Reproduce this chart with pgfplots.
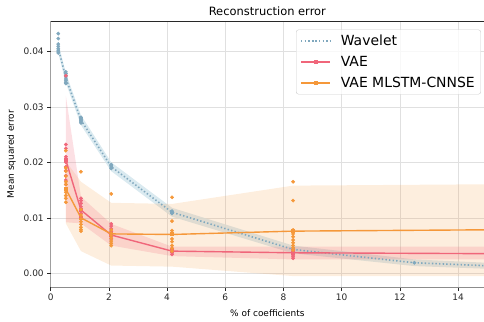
\documentclass[border=0pt]{standalone}
\usepackage{fontspec}
\setmainfont{DejaVu Sans}
\usepackage{pgfplots}
\usepackage{pgfplotstable}
\usepgfplotslibrary{fillbetween}
\pgfplotsset{compat=1.18}

\definecolor{wavecol}{RGB}{128,168,190}
\definecolor{wavefill}{RGB}{212,230,237}
\definecolor{vaecol}{RGB}{240,102,122}
\definecolor{mlcol}{RGB}{245,152,58}
\definecolor{spine}{RGB}{40,40,40}

% individual runs, wavelet baseline
\pgfplotstableread{
x y
0.26 0.0432
0.26 0.0423
0.26 0.0413
0.26 0.0409
0.26 0.0405
0.26 0.0402
0.26 0.0399
0.26 0.0397
0.52 0.0363
0.52 0.0360
0.52 0.0357
0.52 0.0354
0.52 0.0350
0.52 0.0347
0.52 0.0344
0.52 0.0342
1.04 0.0281
1.04 0.0279
1.04 0.0277
1.04 0.0275
1.04 0.0273
1.04 0.0271
2.08 0.0196
2.08 0.0194
2.08 0.0192
2.08 0.0190
2.08 0.0189
4.17 0.0112
4.17 0.0110
4.17 0.0109
4.17 0.0108
8.33 0.0044
12.5 0.0019
}\wavepts

% mean and band, wavelet
\pgfplotstableread{
x m lo hi
0.26 0.0406 0.0397 0.0415
0.52 0.0352 0.0343 0.0361
1.04 0.0276 0.0267 0.0285
2.08 0.0192 0.0184 0.0200
4.17 0.0110 0.0102 0.0118
8.33 0.0043 0.0036 0.0050
12.5 0.0019 0.0013 0.0025
16.67 0.0010 0.0005 0.0015
}\wavemean

% individual runs, VAE
\pgfplotstableread{
x y
0.52 0.0356
0.52 0.0232
0.52 0.0225
0.52 0.0210
0.52 0.0206
0.52 0.0200
0.52 0.0192
0.52 0.0185
0.52 0.0176
0.52 0.0168
0.52 0.0160
1.04 0.0135
1.04 0.0131
1.04 0.0126
1.04 0.0120
1.04 0.0114
1.04 0.0108
1.04 0.0101
2.08 0.0089
2.08 0.0085
2.08 0.0080
2.08 0.0075
2.08 0.0070
2.08 0.0066
2.08 0.0062
4.17 0.0045
4.17 0.0042
4.17 0.0040
4.17 0.0037
4.17 0.0034
8.33 0.0043
8.33 0.0040
8.33 0.0036
8.33 0.0033
8.33 0.0030
8.33 0.0027
}\vaepts

% mean and band, VAE
\pgfplotstableread{
x m lo hi
0.52 0.0204 0.0092 0.0320
1.04 0.0114 0.0090 0.0138
2.08 0.0069 0.0050 0.0089
4.17 0.0040 0.0031 0.0048
8.33 0.0037 0.0025 0.0048
16.67 0.0035 0.0025 0.0048
}\vaemean

% individual runs, VAE MLSTM-CNNSE
\pgfplotstableread{
x y
0.52 0.0221
0.52 0.0190
0.52 0.0184
0.52 0.0175
0.52 0.0165
0.52 0.0160
0.52 0.0150
0.52 0.0146
0.52 0.0140
0.52 0.0135
0.52 0.0128
1.04 0.0183
1.04 0.0115
1.04 0.0105
1.04 0.0098
1.04 0.0093
1.04 0.0088
1.04 0.0083
1.04 0.0079
1.04 0.0076
2.08 0.0143
2.08 0.0078
2.08 0.0072
2.08 0.0068
2.08 0.0063
2.08 0.0058
2.08 0.0054
2.08 0.0050
4.17 0.0137
4.17 0.0094
4.17 0.0077
4.17 0.0073
4.17 0.0062
4.17 0.0057
4.17 0.0050
4.17 0.0045
4.17 0.0040
8.33 0.0165
8.33 0.0131
8.33 0.0078
8.33 0.0075
8.33 0.0071
8.33 0.0066
8.33 0.0060
8.33 0.0055
8.33 0.0050
8.33 0.0046
8.33 0.0042
}\mlpts

% mean and band, VAE MLSTM-CNNSE
\pgfplotstableread{
x m lo hi
0.52 0.0152 0.0090 0.0202
1.04 0.0100 0.0040 0.0165
2.08 0.0071 0.0014 0.0127
4.17 0.0070 0.0012 0.0125
8.33 0.0076 -0.0005 0.0158
16.67 0.0079 -0.0005 0.0161
}\mlmean

\begin{document}
\begin{tikzpicture}
\begin{axis}[
  name=ax,
  at={(0,0)}, anchor=south west,
  scale only axis,
  width=433.3bp, height=266.3bp,
  xmin=0, xmax=14.89,
  ymin=-0.00252, ymax=0.04546,
  axis line style={draw=none},
  xtick={0,2,4,6,8,10,12,14},
  ytick={0,0.01,0.02,0.03,0.04},
  scaled y ticks=false,
  yticklabel style={/pgf/number format/.cd, fixed, fixed zerofill, precision=2},
  /pgf/number format/assume math mode=true,
  tick align=outside, tick pos=left,
  major tick length=3.5bp,
  tick style={spine, line width=0.6pt},
  ticklabel style={font=\fontsize{9}{10}\selectfont, text=black!85},
  grid=major,
  grid style={black!12, line width=0.6pt},
  title={Reconstruction error},
  every axis title/.style={at={(0.5,1)}, anchor=base, yshift=5.8bp,
    font=\fontsize{11.5}{13}\selectfont},
  xlabel={\% of coefficients},
  xlabel style={at={(axis description cs:0.5,-0.1104)}, anchor=base,
    font=\fontsize{9}{10}\selectfont},
  ylabel={Mean squared error},
  ylabel style={at={(axis description cs:-0.0847,0.5)}, anchor=base,
    font=\fontsize{9}{10}\selectfont},
  legend cell align=left,
  legend image code/.code={
    \draw[#1, mark repeat=2, mark phase=2] plot coordinates {(0bp,0bp) (14.5bp,0bp) (29bp,0bp)};},
  legend style={at={(0.993,0.968)}, anchor=north east,
    font=\fontsize{14}{16}\selectfont,
    draw=black!20, rounded corners=2.5bp, fill=white, fill opacity=0.8, text opacity=1,
    inner xsep=4bp, inner ysep=3.5bp, row sep=5bp,
    /tikz/every odd column/.append style={column sep=8bp}},
]

% wavelet spread
\addplot[draw=none, name path=whi, forget plot] table[x=x, y=hi] {\wavemean};
\addplot[draw=none, name path=wlo, forget plot] table[x=x, y=lo] {\wavemean};
\addplot[fill=wavefill, fill opacity=0.85, draw=none, forget plot] fill between[of=whi and wlo];

% spreads of both autoencoders
\addplot[draw=none, name path=mhi, forget plot] table[x=x, y=hi] {\mlmean};
\addplot[draw=none, name path=mlo, forget plot] table[x=x, y=lo] {\mlmean};
\addplot[fill=mlcol, fill opacity=0.17, draw=none, forget plot] fill between[of=mhi and mlo];
\addplot[draw=none, name path=vhi, forget plot] table[x=x, y=hi] {\vaemean};
\addplot[draw=none, name path=vlo, forget plot] table[x=x, y=lo] {\vaemean};
\addplot[fill=vaecol, fill opacity=0.2, draw=none, forget plot] fill between[of=vhi and vlo];

% mean curves and individual runs
\addplot[wavecol, line width=1.6pt, dash pattern=on 1.4pt off 2.2pt] table[x=x, y=m] {\wavemean};
\addlegendentry{Wavelet}
\addplot[only marks, mark=*, mark size=1.7pt, color=wavecol, forget plot] table[x=x, y=y] {\wavepts};

\addplot[vaecol, line width=1.4pt, mark=square*, mark size=1.3pt, mark options={draw=none}] table[x=x, y=m] {\vaemean};
\addlegendentry{VAE}
\addplot[mlcol, line width=1.4pt, mark=square*, mark size=1.3pt, mark options={draw=none}] table[x=x, y=m] {\mlmean};
\addlegendentry{VAE MLSTM-CNNSE}

\addplot[only marks, mark=*, mark size=1.7pt, color=vaecol, forget plot] table[x=x, y=y] {\vaepts};
\addplot[only marks, mark=*, mark size=1.7pt, color=mlcol, forget plot] table[x=x, y=y] {\mlpts};

% spines: left, top and bottom
\draw[spine, line width=0.8pt] (rel axis cs:0,0) -- (rel axis cs:0,1) -- (rel axis cs:1,1);
\draw[black!45, line width=1.2pt] (rel axis cs:0,0) -- (rel axis cs:1,0);
\end{axis}
\pgfresetboundingbox
\path (-50.7bp,-34.7bp) rectangle (433.3bp,287.3bp);
\end{tikzpicture}
\end{document}
